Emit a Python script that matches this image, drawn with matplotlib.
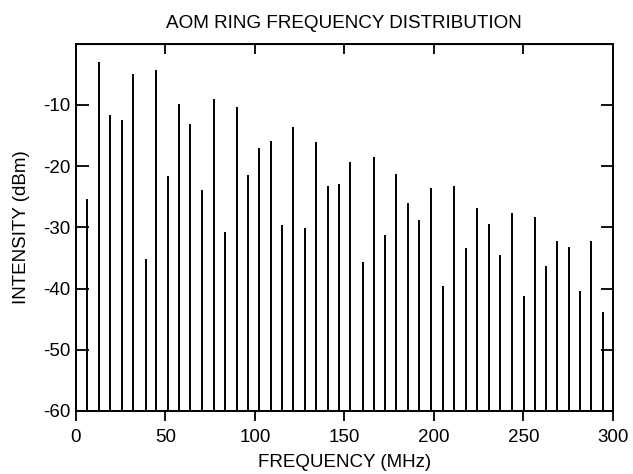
import matplotlib
matplotlib.use("Agg")
import matplotlib.pyplot as plt

plt.rcParams['font.family'] = ['Liberation Sans', 'DejaVu Sans']

freq_mhz = [6.0, 12.8, 19.3, 25.5, 32.0, 38.9, 45.0, 51.2, 57.5, 63.9,
            70.6, 77.1, 83.5, 89.8, 96.4, 102.3, 108.8, 115.2, 121.3, 128.0,
            134.4, 140.6, 146.9, 153.4, 160.2, 166.5, 172.6, 179.0, 185.5, 191.8,
            198.4, 205.1, 211.1, 218.0, 224.1, 230.7, 237.0, 243.5, 250.2, 256.6,
            262.9, 269.1, 275.4, 281.9, 288.1, 294.6]
intensity_dbm = [-25.4, -3.0, -11.6, -12.4, -4.9, -35.1, -4.3, -21.7, -9.8, -13.1,
                 -23.9, -9.1, -30.7, -10.4, -21.4, -17.1, -15.9, -29.7, -13.6, -30.1,
                 -16.0, -23.3, -22.9, -19.4, -35.6, -18.5, -31.2, -21.3, -26.1, -28.8,
                 -23.6, -39.6, -23.3, -33.4, -26.9, -29.4, -34.6, -27.7, -41.2, -28.3,
                 -36.3, -32.2, -33.3, -40.4, -32.2, -43.9]
x_ticks = [0, 50, 100, 150, 200, 250, 300]
y_ticks = [-60, -50, -40, -30, -20, -10]
y_tick_labels = ['-60', '-50', '-40', '-30', '-20', '-10']
baseline = -60

fig = plt.figure(figsize=(6.33, 4.74), dpi=100)
ax = fig.add_axes([0.120, 0.133, 0.848, 0.775])

ax.vlines(freq_mhz, baseline, intensity_dbm, colors='black', linewidth=1.4)

ax.set_xlim(0, 300)
ax.set_ylim(-60, 0)
ax.set_xticks(x_ticks)
ax.set_yticks(y_ticks)
ax.set_yticklabels(y_tick_labels)

for s in ax.spines.values():
    s.set_linewidth(1.4)
    s.set_color('black')

ax.tick_params(axis='x', direction='out', length=7, width=1.3, labelsize=13.5,
               top=False, pad=6)
ax.tick_params(axis='y', direction='in', length=9, width=1.3, labelsize=13.5,
               right=True, pad=4)

# inward ticks on top spine
ax_top = ax.secondary_xaxis('top')
ax_top.set_xticks([50, 100, 150, 200, 250])
ax_top.tick_params(direction='in', length=7, width=1.3, labeltop=False)
ax_top.set_xticklabels([])

ax.set_xlabel('FREQUENCY (MHz)', fontsize=13.5)
ax.set_ylabel('INTENSITY (dBm)', fontsize=13.5)
ax.xaxis.set_label_coords(0.5, -0.139)
ax.yaxis.set_label_coords(-0.101, 0.5)
ax.xaxis.label.set_va('center')
ax.yaxis.label.set_va('center')
ax.set_title('AOM RING FREQUENCY DISTRIBUTION', fontsize=13.6, pad=11)

fig.savefig('out.png', dpi=100)
